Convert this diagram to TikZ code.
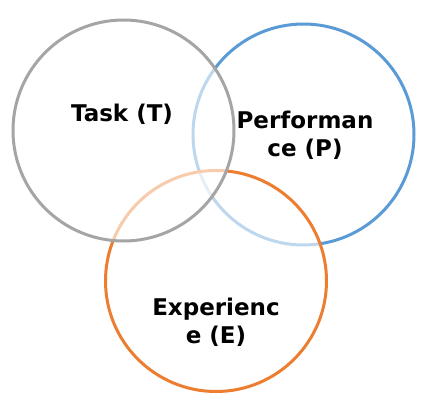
\documentclass[tikz,border=0pt]{standalone}
\usepackage{fontspec}
\setmainfont{DejaVu Sans}
\usetikzlibrary{positioning}

\definecolor{taskgray}{HTML}{A5A5A5}
\definecolor{perfblue}{HTML}{5B9BD5}
\definecolor{exporange}{HTML}{ED7D31}

\begin{document}
\begin{tikzpicture}[
  x=1pt, y=-1pt,
  setring/.style={line width=3pt, fill=white, fill opacity=0.6},
  lbl/.style={font=\bfseries\fontsize{23}{28}\selectfont, align=center,
    inner sep=0pt}
]
  \useasboundingbox (0,0) rectangle (429,400);
  \coordinate (tc) at (123.5,130.5);
  \coordinate (pc) at (303.5,134.5);
  \coordinate (ec) at (216,281);

  % circles, bottom to top
  \draw[setring, draw=perfblue] (pc) circle[radius=110.5pt];
  \draw[setring, draw=exporange] (ec) circle[radius=110.5pt];
  \draw[setring, draw=taskgray] (tc) circle[radius=110.5pt];

  \node[lbl, anchor=base] (task) at (122,121.7) {Task (T)};
  \node[lbl] (perf) at (305,135.5) {Performan\\ce (P)};
  \node[lbl] (exp) at (216,322) {Experienc\\e (E)};
\end{tikzpicture}
\end{document}
